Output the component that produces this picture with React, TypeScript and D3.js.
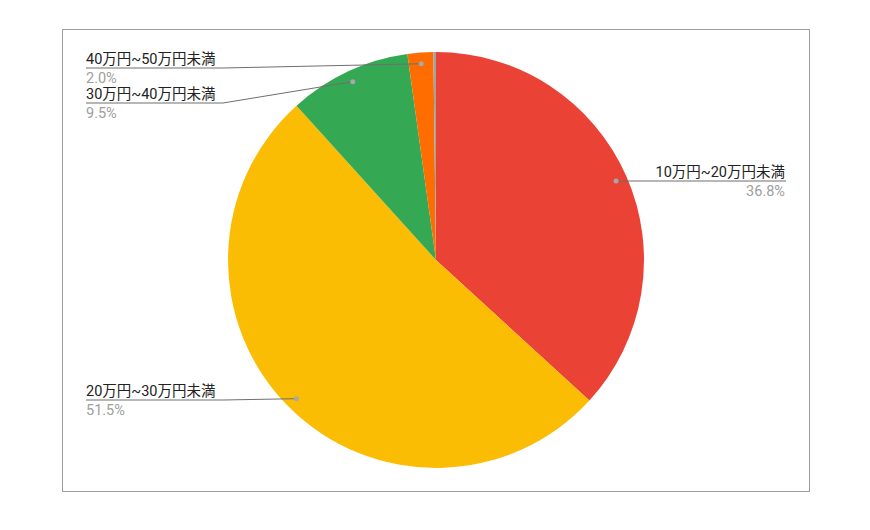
import React from "react";
import * as d3 from "d3";

const categories = ["10万円~20万円未満", "20万円~30万円未満", "30万円~40万円未満", "40万円~50万円未満", "50万円以上"];
const values = [36.8, 51.5, 9.5, 2.0, 0.2];
const percentLabels = ["36.8%", "51.5%", "9.5%", "2.0%", ""];
const colors = ["#ea4335", "#fbbc04", "#34a853", "#ff6d01", "#9aa5a8"];

const W = 870;
const H = 530;
const cx = 436;
const cy = 260;
const R = 208;
const FONT = "Roboto, 'Noto Sans CJK JP', sans-serif";

// label layout: side, underline y, text x anchor
const labelLayout: ({ side: "left" | "right"; y: number; x: number } | null)[] = [
  { side: "right", y: 181, x: 785 },
  { side: "left", y: 400, x: 86 },
  { side: "left", y: 103, x: 86 },
  { side: "left", y: 68, x: 86 },
  null,
];

export default function App() {
  const pie = d3
    .pie<number>()
    .sort(null)
    .value((d) => d)
    .startAngle(0)
    .endAngle(2 * Math.PI);
  const arcs = pie(values);
  const arc = d3.arc<d3.PieArcDatum<number>>().innerRadius(0).outerRadius(R);
  const dotR = R * 0.946;

  return (
    <svg
      width={W}
      height={H}
      style={{ position: "absolute", left: 0, top: 0, background: "#fff" }}
    >
      <rect x={62.5} y={29.5} width={747} height={462} fill="#fff" stroke="#9e9e9e" strokeWidth={1} />
      <g transform={`translate(${cx},${cy})`}>
        {arcs.map((a, i) => (
          <path key={i} d={arc(a) || ""} fill={colors[i]} />
        ))}
      </g>
      {arcs.map((a, i) => {
        const L = labelLayout[i];
        if (!L) return null;
        const mid = (a.startAngle + a.endAngle) / 2;
        const dx = cx + dotR * Math.sin(mid);
        const dy = cy - dotR * Math.cos(mid);
        const textW = 131;
        let pts: [number, number][];
        if (L.side === "right") {
          pts = [[dx, L.y], [L.x + 1, L.y]];
        } else {
          pts = [
            [L.x, L.y],
            [L.x + textW + 6, L.y],
            [dx, dy],
          ];
        }
        const line = d3.line()(pts) || "";
        const anchor = L.side === "right" ? "end" : "start";
        return (
          <g key={i}>
            <path d={line} fill="none" stroke="#6f6f6f" strokeWidth={1} />
            <circle cx={dx} cy={L.side === "right" ? L.y : dy} r={2.5} fill="#a8a8a8" />
            <text
              x={L.x}
              y={L.y - 4}
              textAnchor={anchor}
              fontFamily={FONT}
              fontSize={14.5}
              fill="#222"
            >
              {categories[i]}
            </text>
            <text
              x={L.x}
              y={L.y + 14.5}
              textAnchor={anchor}
              fontFamily={FONT}
              fontSize={14.5}
              fill="#9e9e9e"
            >
              {percentLabels[i]}
            </text>
          </g>
        );
      })}
    </svg>
  );
}
